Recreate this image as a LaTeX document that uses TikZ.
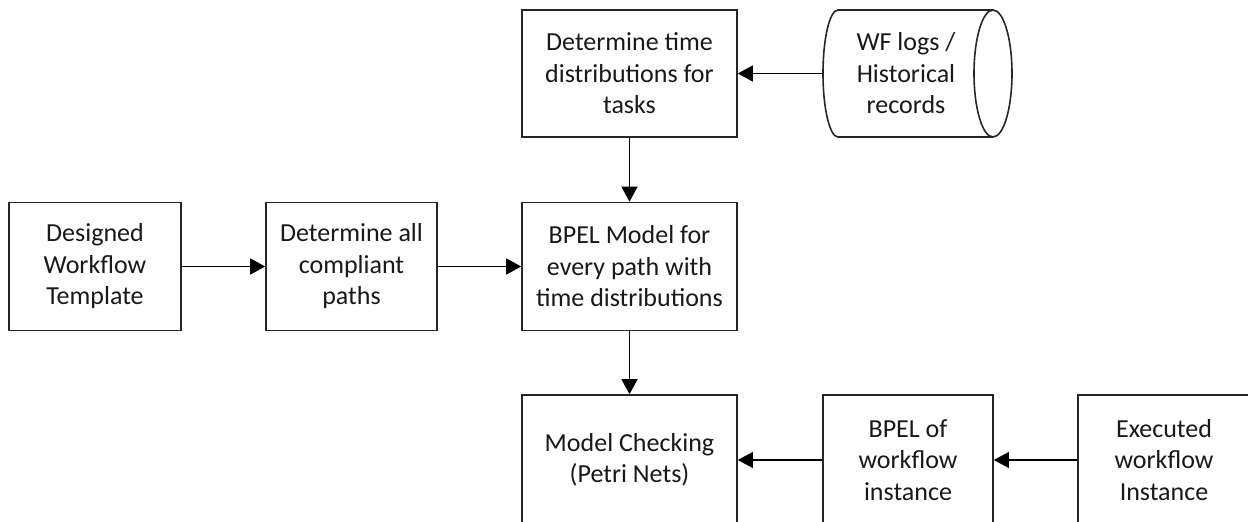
\documentclass[tikz,border=0pt]{standalone}
\usepackage{fontspec}
\setmainfont{Carlito}
\usetikzlibrary{arrows.meta}
\begin{document}
\begin{tikzpicture}[x=1pt,y=1pt,
  box/.style={draw=black!85, line width=1.6pt, fill=white, align=center,
    inner sep=0pt, font=\fontsize{26}{31.5}\selectfont, text=black!90},
  holder/.style={inner sep=0pt},
  flow/.style={line width=1.3pt, draw=black, -{Triangle[length=15pt,width=16pt]}}]
\useasboundingbox (0,0) rectangle (1248,522);
\clip (0,0) rectangle (1248,522);

% process steps
\node[box, minimum width=215pt, minimum height=127pt] (tasks) at (629.5,448.5)
  {Determine time\\distributions for\\tasks};
\node[box, minimum width=172pt, minimum height=128pt] (tmpl) at (95,255.5)
  {Designed\\Workflow\\Template};
\node[box, minimum width=171pt, minimum height=128pt] (paths) at (351.5,255.5)
  {Determine all\\compliant\\paths};
\node[box, minimum width=215pt, minimum height=128pt] (bpel) at (629.5,255.5)
  {BPEL Model for\\every path with\\time distributions};
\node[box, minimum width=215pt, minimum height=130pt] (mc) at (629.5,62)
  {Model Checking\\(Petri Nets)};
\node[box, minimum width=170pt, minimum height=130pt] (inst) at (908,62)
  {BPEL of\\workflow\\instance};
\node[box, minimum width=172pt, minimum height=130pt] (exec) at (1164,62)
  {Executed\\workflow\\Instance};

% data store drawn as a horizontal cylinder
\node[holder, minimum width=189pt, minimum height=127pt] (logs) at (917.5,448.5) {};
\draw[draw=black!85, line width=1.6pt]
  (838,512) -- (993,512)
  arc[start angle=90, end angle=-90, x radius=19pt, y radius=63.5pt]
  -- (838,385)
  arc[start angle=-90, end angle=-270, x radius=15pt, y radius=63.5pt] -- cycle;
\draw[draw=black!85, line width=1.6pt]
  (993,512) arc[start angle=90, end angle=270, x radius=19pt, y radius=63.5pt];
\node[box, draw=none, fill=none] (logstext) at (906,448.5)
  {WF logs /\\Historical\\records};

% connectors
\draw[flow] (logs.west) -- (tasks.east);
\draw[flow] (tasks.south) -- (bpel.north);
\draw[flow] (tmpl.east) -- (paths.west);
\draw[flow] (paths.east) -- (bpel.west);
\draw[flow] (bpel.south) -- (mc.north);
\draw[flow] (inst.west) -- (mc.east);
\draw[flow] (exec.west) -- (inst.east);
\end{tikzpicture}
\end{document}
